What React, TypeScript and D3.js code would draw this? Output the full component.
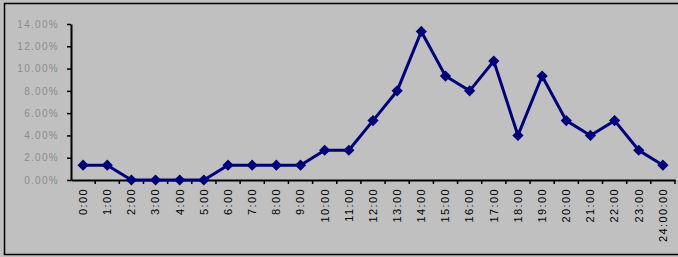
import React, { useEffect, useRef } from "react";
import * as d3 from "d3";

const hours: string[] = [
  "0:00", "1:00", "2:00", "3:00", "4:00", "5:00", "6:00", "7:00", "8:00",
  "9:00", "10:00", "11:00", "12:00", "13:00", "14:00", "15:00", "16:00",
  "17:00", "18:00", "19:00", "20:00", "21:00", "22:00", "23:00", "24:00:00",
];
const shares: number[] = [
  1.33, 1.33, 0, 0, 0, 0, 1.33, 1.33, 1.33, 1.33, 2.67, 2.67, 5.33, 8.0,
  13.33, 9.33, 8.0, 10.67, 4.0, 9.33, 5.33, 4.0, 5.33, 2.67, 1.33,
];
const yTicks: number[] = [0, 2, 4, 6, 8, 10, 12, 14];

const W = 678;
const H = 257;

export default function App() {
  const ref = useRef<SVGSVGElement>(null);

  useEffect(() => {
    const svg = d3.select(ref.current);
    svg.selectAll("*").remove();

    const left = 71;
    const right = 675;
    const top = 24;
    const bottom = 180;

    svg.append("rect").attr("width", W).attr("height", H).attr("fill", "#c0c0c0");
    // frame
    svg
      .append("path")
      .attr("d", `M${W},3.5 H4.5 V254.5 H${W}`)
      .attr("fill", "none")
      .attr("stroke", "#000")
      .attr("stroke-width", 1.5);

    const x = d3.scaleBand<string>().domain(hours).range([left, right]);
    const y = d3.scaleLinear().domain([0, 14]).range([bottom, top]);

    const g = svg.append("g");

    // y axis
    const yAxis = g
      .append("g")
      .attr("transform", `translate(${left},0)`)
      .call(
        d3
          .axisLeft(y)
          .tickValues(yTicks)
          .tickSize(4)
          .tickSizeOuter(0)
          .tickFormat((d) => `${(+d).toFixed(2)}%`)
      );
    yAxis.select(".domain").attr("stroke-width", 2);
    yAxis.selectAll(".tick line").attr("stroke-width", 1.5);
    yAxis
      .selectAll(".tick text")
      .attr("x", -12)
      .attr("fill", "#8c8c8c")
      .style("font-family", "Arial, 'Liberation Sans', sans-serif")
      .style("font-size", "10px")
      .style("letter-spacing", "1.3px");

    // x axis
    const xAxis = g
      .append("g")
      .attr("transform", `translate(0,${bottom})`)
      .call(d3.axisBottom(x).tickSize(0).tickSizeOuter(0));
    xAxis.select(".domain").attr("stroke-width", 2);
    xAxis.selectAll(".tick line").remove();
    xAxis
      .selectAll(".tick text")
      .attr("transform", "rotate(-90)")
      .attr("x", -8)
      .attr("y", 0)
      .attr("dy", "0.35em")
      .attr("text-anchor", "end")
      .attr("fill", "#000")
      .style("font-family", "Arial, 'Liberation Sans', sans-serif")
      .style("font-size", "11px")
      .style("letter-spacing", "1.4px");

    // category boundary ticks
    g.append("g")
      .selectAll("line")
      .data(hours.slice(1).concat(["__end"]))
      .join("line")
      .attr("x1", (d) => (d === "__end" ? right : (x(d) as number)))
      .attr("x2", (d) => (d === "__end" ? right : (x(d) as number)))
      .attr("y1", bottom)
      .attr("y2", bottom + 4)
      .attr("stroke", "#000")
      .attr("stroke-width", 1.5);

    const cx = (i: number) => (x(hours[i]) as number) + x.bandwidth() / 2;

    const line = d3
      .line<number>()
      .x((_, i) => cx(i))
      .y((d) => y(d));

    g.append("path")
      .datum(shares)
      .attr("d", line)
      .attr("fill", "none")
      .attr("stroke", "#00007a")
      .attr("stroke-width", 3);

    g.append("g")
      .selectAll("path")
      .data(shares)
      .join("path")
      .attr("d", d3.symbol(d3.symbolDiamond2, 80)())
      .attr("transform", (d, i) => `translate(${cx(i)},${y(d)})`)
      .attr("fill", "#00007a");
  }, []);

  return (
    <svg
      ref={ref}
      width={W}
      height={H}
      style={{ position: "absolute", left: 0, top: 0, display: "block" }}
    />
  );
}
